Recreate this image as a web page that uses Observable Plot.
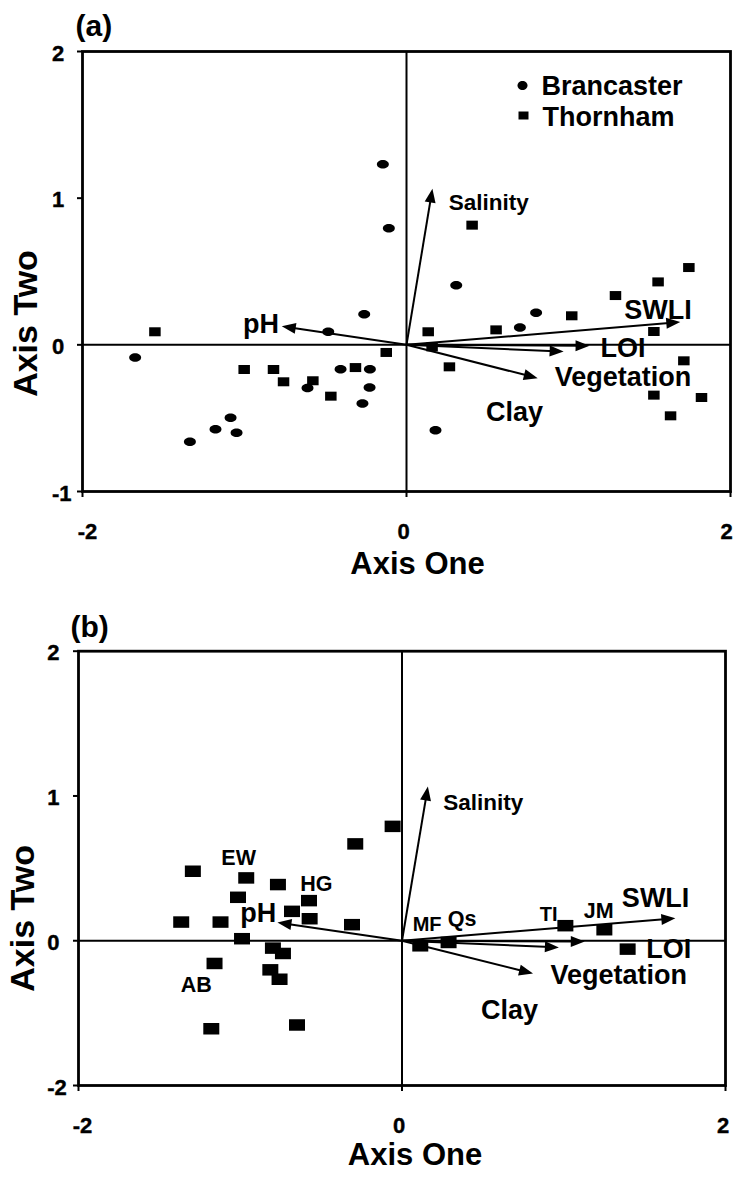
<!DOCTYPE html>
<html>
<head>
<meta charset="utf-8">
<script src="https://cdn.jsdelivr.net/npm/d3@7"></script>
<script src="https://cdn.jsdelivr.net/npm/@observablehq/plot@0.6"></script>
<style>
  body { margin: 0; background: #fff; }
  #chart svg { display: block; }
</style>
</head>
<body>
<div id="chart"></div>
<script>
// ---------------- DATA ----------------
// Panel (a): Brancaster samples (circles)
const brancasterX = [-0.146, -0.109, -1.675, -0.261, -0.483, -0.407, -0.226, -0.611, -0.228, -0.272, -1.086, -1.179, -1.049, -1.337, 0.307, 0.80, 0.70, 0.179];
const brancasterY = [1.232, 0.795, -0.087, 0.209, 0.089, -0.166, -0.166, -0.295, -0.291, -0.400, -0.498, -0.575, -0.600, -0.661, 0.407, 0.218, 0.118, -0.582];
// Panel (a): Thornham samples (squares)
const thornhamX = [0.405, 1.743, 1.553, 1.29, 1.02, 0.553, 0.134, 1.527, 0.158, 0.265, 1.712, 1.527, 1.821, 1.63, -1.553, -0.125, -1.002, -0.821, -0.759, -0.578, -0.315, -0.467];
const thornhamY = [0.816, 0.527, 0.429, 0.336, 0.198, 0.102, 0.089, 0.091, -0.014, -0.150, -0.109, -0.343, -0.359, -0.484, 0.089, -0.052, -0.168, -0.168, -0.252, -0.245, -0.155, -0.350];
// Panel (b): sites (squares)
const siteX = [-1.293, -0.963, -0.767, -0.289, -0.058, -1.014, -0.575, -1.365, -1.122, -0.989, -0.680, -0.571, -0.309, -0.798, -0.736, -1.159, -0.814, -0.757, -1.179, -0.649, 0.113, 0.288, 1.01, 1.251, 1.395];
const siteY = [0.480, 0.434, 0.388, 0.669, 0.790, 0.300, 0.277, 0.129, 0.129, 0.014, 0.203, 0.152, 0.111, -0.051, -0.088, -0.157, -0.201, -0.266, -0.608, -0.582, -0.035, -0.012, 0.104, 0.076, -0.058];
// Panel (b): site labels
const siteLabels = ["EW", "HG", "AB", "MF", "Qs", "TI", "JM"];
const siteLabelX = [-1.010, -0.530, -1.272, 0.155, 0.371, 0.907, 1.216];
const siteLabelY = [0.572, 0.392, -0.305, 0.111, 0.152, 0.180, 0.208];
// Environmental vectors (biplot arrows)
const vectorNames = ["Salinity", "pH", "SWLI", "LOI", "Clay", "Vegetation"];
const vectorX = [0.16, -0.77, 1.69, 1.13, 0.97, 0.81];
const vectorY = [1.065, 0.126, 0.155, -0.006, -0.046, -0.227];
// Vector labels
const varLabels = ["Salinity", "pH", "SWLI", "LOI", "Vegetation", "Clay"];
const varLabelXA = [0.508, -0.898, 1.552, 1.336, 1.336, 0.667];
const varLabelYA = [0.970, 0.141, 0.232, -0.022, -0.223, -0.461];
const varLabelXB = [0.502, -0.889, 1.568, 1.649, 1.340, 0.665];
const varLabelYB = [0.954, 0.191, 0.295, -0.062, -0.236, -0.478];
// Legend
const legendNames = ["Brancaster", "Thornham"];
// Axes
const xTicks = [-2, 0, 2];
const xTickLabels = ["-2", "0", "2"];
const yTicks = [-1, 0, 1, 2];
const yTickLabelsA = ["-1", "0", "1", "2"];
const yTickLabelsB = ["-2", "0", "1", "2"];
const xTitle = "Axis One";
const yTitle = "Axis Two";

// ---------------- HELPERS ----------------
const FONT = "'Liberation Sans', Arial, Helvetica, sans-serif";
function ellipseSym(w, h) {
  return {draw(ctx) {
    const rx = w / 2, ry = h / 2, k = 0.5523;
    ctx.moveTo(rx, 0);
    ctx.bezierCurveTo(rx, ry * k, rx * k, ry, 0, ry);
    ctx.bezierCurveTo(-rx * k, ry, -rx, ry * k, -rx, 0);
    ctx.bezierCurveTo(-rx, -ry * k, -rx * k, -ry, 0, -ry);
    ctx.bezierCurveTo(rx * k, -ry, rx, -ry * k, rx, 0);
    ctx.closePath();
  }};
}
function rectSym(w, h) {
  return {draw(ctx) { ctx.rect(-w / 2, -h / 2, w, h); }};
}
function headSym(angle, L, W) {
  return {draw(ctx) {
    const c = Math.cos(angle), s = Math.sin(angle);
    const bx = -L * c, by = -L * s;
    ctx.moveTo(0, 0);
    ctx.lineTo(bx - W * s, by + W * c);
    ctx.lineTo(bx + W * s, by - W * c);
    ctx.closePath();
  }};
}
const zip = (xs, ys, extra) => xs.map((x, i) => ({x, y: ys[i], ...(extra ? {label: extra[i]} : {})}));

function vectorMarks(kx, ky) {
  const L = 14, W = 5.5;
  const marks = [];
  vectorNames.forEach((name, i) => {
    const x = vectorX[i], y = vectorY[i];
    const px = x * kx, py = -y * ky;
    const len = Math.hypot(px, py);
    const f = 1 - (L * 0.6) / len;
    marks.push(Plot.link([{name}], {x1: () => 0, y1: () => 0, x2: () => x * f, y2: () => y * f, stroke: "black", strokeWidth: 2}));
    marks.push(Plot.dot([{name}], {x: () => x, y: () => y, symbol: headSym(Math.atan2(py, px), L, W), fill: "black", stroke: "none"}));
  });
  return marks;
}

function panel(opts) {
  const {width, height, ml, mr, mt, mb, yLabels, yLabelDx, xLabelDx, title, titleDx, titleDy, xTitleDx, xTitleDy, yTitleDy, yTitleDx, marks} = opts;
  const kx = (width - ml - mr) / 4;
  const ky = (height - mt - mb) / 3;
  const tickText = {fontSize: 22, fontWeight: "bold", fill: "black", lineAnchor: "middle", stroke: "black", strokeWidth: 0.4};
  return Plot.plot({
    width, height,
    marginLeft: ml, marginRight: mr, marginTop: mt, marginBottom: mb,
    style: {fontFamily: FONT, fontWeight: "bold", color: "black", background: "white"},
    x: {domain: [-2, 2]},
    y: {domain: [-1, 2]},
    marks: [
      Plot.ruleX([0], {stroke: "black", strokeWidth: 2}),
      Plot.ruleY([0], {stroke: "black", strokeWidth: 2}),
      ...vectorMarks(kx, ky),
      ...marks,
      Plot.frame({stroke: "black", strokeWidth: 2.8}),
      Plot.axisX({ticks: xTicks, tickFormat: () => "", tickSize: 6, strokeWidth: 2, label: null}),
      Plot.axisY({ticks: yTicks, tickFormat: () => "", tickSize: 5, strokeWidth: 2, label: null}),
      ...xTicks.map((t, i) => Plot.text([t], {x: d => d, frameAnchor: "bottom", text: () => xTickLabels[i], textAnchor: "middle", dy: 40, dx: xLabelDx[i], ...tickText})),
      Plot.text(yTicks, {y: d => d, frameAnchor: "left", text: (d, i) => yLabels[i], textAnchor: "start", dx: yLabelDx, dy: 2, ...tickText}),
      Plot.text([title], {text: d => d, frameAnchor: "top-left", textAnchor: "start", lineAnchor: "middle", dx: titleDx, dy: titleDy, fontSize: 30, fontWeight: "bold"}),
      Plot.text([xTitle], {text: d => d, frameAnchor: "bottom", textAnchor: "middle", lineAnchor: "middle", dx: xTitleDx, dy: xTitleDy, fontSize: 31, fontWeight: "bold"}),
      Plot.text([yTitle], {text: d => d, frameAnchor: "left", textAnchor: "middle", lineAnchor: "middle", rotate: -90, dx: yTitleDx, dy: yTitleDy, fontSize: 34, fontWeight: "bold"})
    ]
  });
}

// ---------------- PANEL (a) ----------------
const brancaster = zip(brancasterX, brancasterY);
const thornham = zip(thornhamX, thornhamY);
const labelsA = zip(varLabelXA, varLabelYA, varLabels);
const chartA = panel({
  width: 733, height: 580, ml: 82, mr: 3, mt: 51, mb: 89,
  yLabels: yTickLabelsA, yLabelDx: -30.5, xLabelDx: [5, -3, -4],
  title: "(a)", titleDx: -7, titleDy: -25,
  xTitleDx: 11, xTitleDy: 72.5, yTitleDx: -56, yTitleDy: 52,
  marks: [
    Plot.dot(brancaster, {x: "x", y: "y", symbol: ellipseSym(12, 8.5), fill: "black", stroke: "none"}),
    Plot.dot(thornham, {x: "x", y: "y", symbol: rectSym(11.5, 9), fill: "black", stroke: "none"}),
    Plot.text(labelsA, {x: "x", y: "y", text: "label", textAnchor: "middle", lineAnchor: "middle",
      fontSize: d => d.label === "Salinity" ? 22.5 : 27, fontWeight: "bold", fill: "black"}),
    // legend
    Plot.dot([legendNames[0]], {frameAnchor: "top-left", dx: 440, dy: 34, symbol: ellipseSym(10, 9), fill: "black", stroke: "none"}),
    Plot.dot([legendNames[1]], {frameAnchor: "top-left", dx: 441, dy: 64, symbol: rectSym(10, 8), fill: "black", stroke: "none"}),
    Plot.text([legendNames[0]], {text: d => d, frameAnchor: "top-left", textAnchor: "start", lineAnchor: "middle", dx: 459, dy: 35, fontSize: 27, fontWeight: "bold"}),
    Plot.text([legendNames[1]], {text: d => d, frameAnchor: "top-left", textAnchor: "start", lineAnchor: "middle", dx: 460, dy: 66, fontSize: 27, fontWeight: "bold"})
  ]
});

// ---------------- PANEL (b) ----------------
const sites = zip(siteX, siteY);
const siteLabelData = zip(siteLabelX, siteLabelY, siteLabels);
const labelsB = zip(varLabelXB, varLabelYB, varLabels);
const chartB = panel({
  width: 733, height: 598, ml: 78, mr: 8, mt: 70.7, mb: 93,
  yLabels: yTickLabelsB, yLabelDx: -31.3, xLabelDx: [4, -3, -2.5],
  title: "(b)", titleDx: -8, titleDy: -23.6,
  xTitleDx: 13, xTitleDy: 70, yTitleDx: -55, yTitleDy: 50,
  marks: [
    Plot.dot(sites, {x: "x", y: "y", symbol: rectSym(16, 11.5), fill: "black", stroke: "none"}),
    Plot.text(siteLabelData, {x: "x", y: "y", text: "label", textAnchor: "middle", lineAnchor: "middle",
      fontSize: d => d.label === "MF" || d.label === "TI" ? 20 : 21.5, fontWeight: "bold", fill: "black"}),
    Plot.text(labelsB, {x: "x", y: "y", text: "label", textAnchor: "middle", lineAnchor: "middle",
      fontSize: d => d.label === "Salinity" ? 22.5 : 27, fontWeight: "bold", fill: "black"})
  ]
});

const root = document.getElementById("chart");
root.appendChild(chartA);
root.appendChild(chartB);
</script>
</body>
</html>
